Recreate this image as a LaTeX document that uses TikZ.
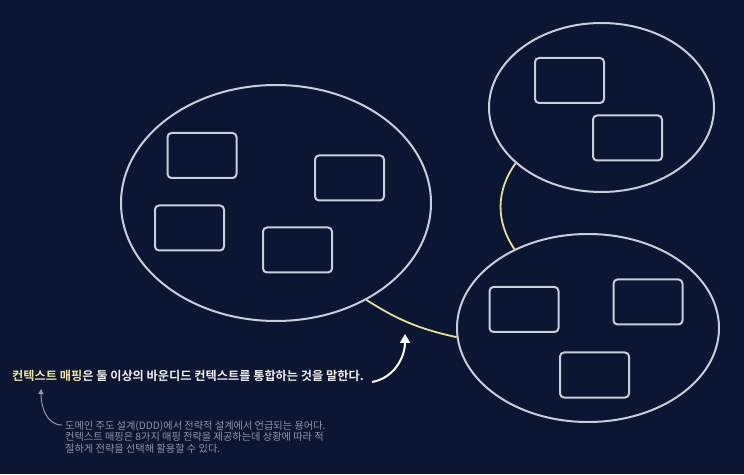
\documentclass[tikz,border=0pt]{standalone}
\usepackage{fontspec}
\usepackage{xcolor}
\usepackage{tikz}
\usetikzlibrary{
	arrows.meta,
	shapes.geometric
}
\newfontfamily\krfont{Noto Sans CJK KR}[BoldFont={Noto Sans CJK KR Bold}]
\definecolor{BgNavy}{RGB}{10,22,50}
\definecolor{EdgeGray}{RGB}{200,206,218}
\definecolor{MapYellow}{RGB}{232,222,150}
\definecolor{HeadYellow}{RGB}{240,228,160}
\definecolor{NoteGray}{RGB}{140,152,172}

\begin{document}
\begin{tikzpicture}[x=1pt, y=1pt,
		bctx/.style={draw=EdgeGray, line width=2pt, ellipse, inner sep=0pt},
		ctxbox/.style={draw=EdgeGray, line width=2pt, rounded corners=4pt, minimum width=69pt, minimum height=45pt, inner sep=0pt},
		maplink/.style={draw=MapYellow, line width=1.8pt}]
		\useasboundingbox (0,0) rectangle (744,474);
		\fill[BgNavy] (0,0) rectangle (744,474);
		
		% 바운디드 컨텍스트 세 개
		\node[bctx, minimum width=310pt, minimum height=236pt] (ctxL) at (276,271) {};
		\node[bctx, minimum width=225pt, minimum height=169pt] (ctxT) at (601.5,366.5) {};
		\node[bctx, minimum width=262pt, minimum height=188pt] (ctxB) at (588,146) {};
		
		% 컨텍스트 안의 모델
		\node[ctxbox] (boxL1) at (202,318.5) {};
		\node[ctxbox] (boxL2) at (349.5,296) {};
		\node[ctxbox] (boxL3) at (189.5,246) {};
		\node[ctxbox] (boxL4) at (297.5,224) {};
		\node[ctxbox] (boxT1) at (569.5,393.5) {};
		\node[ctxbox] (boxT2) at (627.5,336) {};
		\node[ctxbox] (boxB1) at (524,164.5) {};
		\node[ctxbox] (boxB2) at (648,172) {};
		\node[ctxbox] (boxB3) at (594.5,99) {};
		
		% 컨텍스트 매핑 (연결선)
		\draw[maplink] (ctxL.-47.8) to[bend right=10] (ctxB.184);
		\draw[maplink] (ctxT.213.3) to[bend right=35] (ctxB.133.2);
		
		% 설명 문장
		\node[anchor=base west, inner sep=0pt, text=white!94!black, font=\krfont\bfseries\fontsize{12.2}{14}\selectfont] (headline) at (12,93.5)
			{\textcolor{HeadYellow}{컨텍스트 매핑}은 둘 이상의 바운디드 컨텍스트를 통합하는 것을 말한다.};
		\node[anchor=north west, inner sep=0pt, align=left, text=NoteGray, font=\krfont\fontsize{10.2}{11.8}\selectfont] (note) at (65,53.5)
			{도메인 주도 설계(DDD)에서 전략적 설계에서 언급되는 용어다.\\
			컨텍스트 매핑은 8가지 매핑 전략을 제공하는데 상황에 따라 적\\
			절하게 전략을 선택해 활용할 수 있다.};
		
		% 화살표
		\coordinate (headTail) at (372,92);
		\coordinate (headTip) at (405,140);
		\draw[white, line width=2pt, -{Triangle[width=10pt,length=9pt]}] (headTail) to[out=10,in=-90] (headTip);
		\coordinate (noteTail) at (62,49);
		\coordinate (noteTip) at (41,85);
		\draw[NoteGray, line width=1pt, -{Triangle[width=5pt,length=5pt]}] (noteTail) to[out=180,in=-90] (noteTip);
	\end{tikzpicture}
\end{document}
